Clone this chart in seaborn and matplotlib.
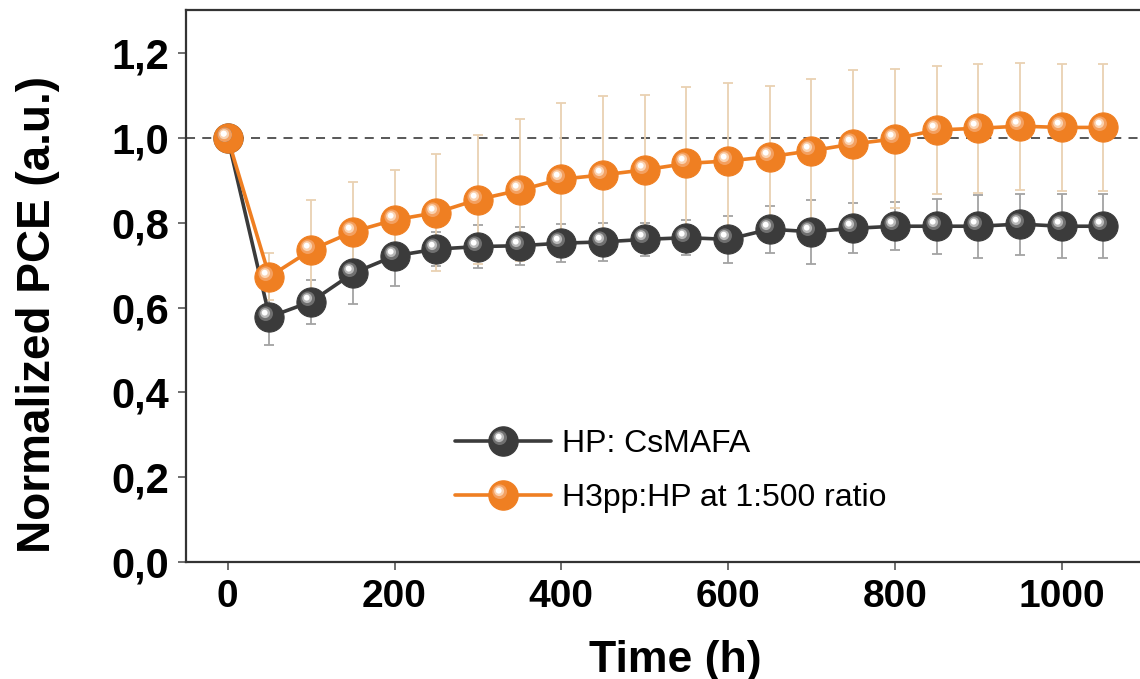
import numpy as np
import matplotlib
matplotlib.use("Agg")
import matplotlib.pyplot as plt
import seaborn as sns
from matplotlib.path import Path
from matplotlib.lines import Line2D
from matplotlib.legend_handler import HandlerTuple

# ---------------- data ----------------
time_h = [0, 50, 100, 150, 200, 250, 300, 350, 400, 450, 500, 550,
          600, 650, 700, 750, 800, 850, 900, 950, 1000, 1050]

hp_pce = [1.000, 0.578, 0.614, 0.681, 0.722, 0.738, 0.744, 0.746, 0.752, 0.755, 0.761, 0.765,
          0.761, 0.785, 0.779, 0.787, 0.792, 0.792, 0.792, 0.797, 0.792, 0.792]
hp_err = [0.0, 0.066, 0.052, 0.072, 0.070, 0.040, 0.050, 0.045, 0.045, 0.045, 0.039, 0.042,
          0.055, 0.055, 0.075, 0.059, 0.057, 0.065, 0.074, 0.072, 0.075, 0.075]

h3_pce = [1.000, 0.673, 0.736, 0.779, 0.807, 0.824, 0.855, 0.877, 0.903, 0.913, 0.925, 0.940,
          0.946, 0.956, 0.970, 0.986, 0.998, 1.019, 1.023, 1.028, 1.025, 1.025]
h3_err = [0.0, 0.055, 0.118, 0.117, 0.118, 0.138, 0.153, 0.167, 0.179, 0.185, 0.176, 0.180,
          0.183, 0.167, 0.170, 0.174, 0.164, 0.150, 0.152, 0.150, 0.150, 0.150]

series_labels = ["HP: CsMAFA", "H3pp:HP at 1:500 ratio"]
x_ticks = [0, 200, 400, 600, 800, 1000]
y_ticks = [0.0, 0.2, 0.4, 0.6, 0.8, 1.0, 1.2]
y_ticklabels = ["0,0", "0,2", "0,4", "0,6", "0,8", "1,0", "1,2"]

# ---------------- style ----------------
sns.set_theme(style="white")
plt.rcParams["font.family"] = ["Liberation Sans", "DejaVu Sans"]
plt.rcParams["text.color"] = "black"
plt.rcParams["axes.labelcolor"] = "black"

DARK = "#3b3b3b"
ORANGE = "#ef7f22"
fig = plt.figure(figsize=(11.40, 6.79), dpi=100)
ax = fig.add_axes([185.7 / 1140, 117 / 679, 1 - 185.7 / 1140, (562 - 10) / 679])


def highlight_marker(cx, cy, r):
    circ = Path.circle(center=(cx, cy), radius=r)
    bounds = Path([(-1, -1), (1, 1)], [Path.MOVETO, Path.MOVETO])
    return Path.make_compound_path(bounds, circ)


HL1 = highlight_marker(-0.26, 0.26, 0.50)
HL2 = highlight_marker(-0.30, 0.30, 0.34)
HL3 = highlight_marker(-0.33, 0.33, 0.20)
MS = 21

series = [
    (hp_pce, hp_err, DARK, "#a3a3a3", ["#707070", "#b8b8b8", "#ffffff"]),
    (h3_pce, h3_err, ORANGE, "#e9d1b2", ["#f4a060", "#fad2b0", "#ffffff"]),
]

handles = []
for (vals, errs, col, ecol, hls), lab in zip(series, series_labels):
    ax.errorbar(time_h, vals, yerr=errs, fmt="none", ecolor=ecol, elinewidth=1.3,
                capsize=3.5, capthick=1.3, zorder=2)
    sns.lineplot(x=time_h, y=vals, ax=ax, color=col, linewidth=2.6, marker="o",
                 markersize=MS, markeredgecolor=col, markeredgewidth=0.8, zorder=3,
                 legend=False)
    hset = [Line2D([], [], color=col, linewidth=2.6, marker="o", markersize=MS,
                   markeredgecolor=col)]
    for k, (mk, hc) in enumerate(zip([HL1, HL2, HL3], hls)):
        ax.plot(time_h, vals, linestyle="none", marker=mk, markersize=MS,
                markerfacecolor=hc, markeredgewidth=0, zorder=3.1 + 0.1 * k)
        hset.append(Line2D([], [], linestyle="none", marker=mk, markersize=MS,
                           markerfacecolor=hc, markeredgewidth=0))
    handles.append(tuple(hset))

ax.axhline(1.0, color="#4a4a4a", linestyle=(0, (5, 4)), linewidth=1.3, zorder=1)

ax.set_xlim(-50.4, 1094)
ax.set_ylim(0, 1.302)
ax.set_xticks(x_ticks)
ax.set_xticklabels([str(v) for v in x_ticks], fontsize=28, fontweight="bold")
ax.set_yticks(y_ticks)
ax.set_yticklabels(y_ticklabels, fontsize=30, fontweight="bold")
ax.tick_params(axis="both", direction="out", length=6, width=1.2, color="#555555",
               pad=6, bottom=True, left=True, labelcolor="black")

for side in ["left", "bottom", "top"]:
    ax.spines[side].set_visible(True)
    ax.spines[side].set_color("#333333")
    ax.spines[side].set_linewidth(1.6)
ax.spines["right"].set_visible(False)

ax.set_xlabel("Time (h)", fontsize=32, fontweight="bold", labelpad=18, color="black")
ax.xaxis.label.set_x(0.5127)
ax.set_ylabel("Normalized PCE (a.u.)", fontsize=33, fontweight="bold", labelpad=37,
              color="black")
ax.yaxis.label.set_y(0.4475)

ax.legend(handles, series_labels, handler_map={tuple: HandlerTuple(ndivide=1)},
          loc="upper left", bbox_to_anchor=(455 / 1140, 1 - 429 / 679),
          bbox_transform=fig.transFigure, frameon=False, fontsize=23,
          handlelength=3.0, handletextpad=0.35, labelspacing=0.75,
          borderpad=0, borderaxespad=0)

fig.savefig("out.png", dpi=100)
